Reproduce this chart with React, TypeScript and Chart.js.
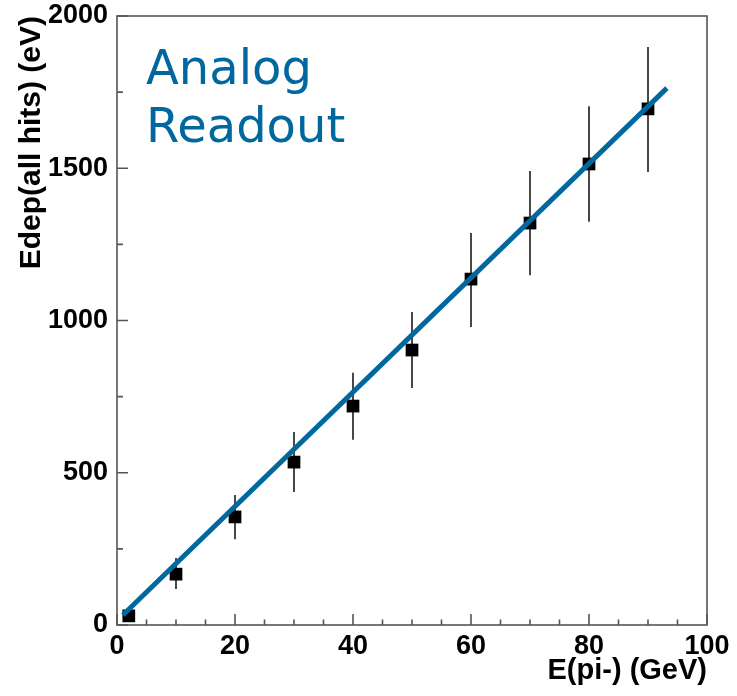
import { useEffect, useRef } from 'react';
import { Chart, registerables } from 'chart.js';

Chart.register(...registerables);

// ---- data ----
const energies = [2, 10, 20, 30, 40, 50, 60, 70, 80, 90];
const edep = [30, 167, 355, 535, 719, 903, 1136, 1320, 1514, 1695];
const errLow = [18, 118, 282, 437, 608, 778, 979, 1149, 1324, 1488];
const errHigh = [42, 220, 427, 634, 828, 1028, 1287, 1491, 1704, 1898];
const fitX = [1, 93.2];
const fitY = [33, 1763];
const xMajorTicks = [0, 20, 40, 60, 80, 100];
const xMinorTicks = [5, 10, 15, 25, 30, 35, 45, 50, 55, 65, 70, 75, 85, 90, 95];
const yMajorTicks = [0, 500, 1000, 1500, 2000];
const yMinorTicks = [250, 750, 1250, 1750];
const annotationLines = ['Analog', 'Readout'];

const BLUE = '#00679F';
const FRAME = '#555555';
const FONT = '"Liberation Sans", Arial, sans-serif';

const framePlugin = {
  id: 'rootFrame',
  beforeDatasetsDraw(chart: any) {
    const { ctx, scales } = chart;
    const x = scales.x;
    const y = scales.y;
    ctx.save();
    ctx.strokeStyle = '#1a1a1a';
    ctx.lineWidth = 1.6;
    for (let i = 0; i < energies.length; i++) {
      const px = x.getPixelForValue(energies[i]);
      const y1 = y.getPixelForValue(errLow[i]);
      const y2 = y.getPixelForValue(errHigh[i]);
      ctx.beginPath();
      ctx.moveTo(px, y1);
      ctx.lineTo(px, y2);
      ctx.stroke();
    }
    ctx.restore();
  },
  afterDraw(chart: any) {
    const { ctx, chartArea, scales } = chart;
    const x = scales.x;
    const y = scales.y;
    ctx.save();
    ctx.strokeStyle = FRAME;
    ctx.lineWidth = 1.6;
    ctx.strokeRect(chartArea.left, chartArea.top, chartArea.right - chartArea.left, chartArea.bottom - chartArea.top);
    ctx.beginPath();
    const tick = (vals: number[], len: number, axis: 'x' | 'y') => {
      vals.forEach((v) => {
        if (axis === 'x') {
          const px = x.getPixelForValue(v);
          ctx.moveTo(px, chartArea.bottom);
          ctx.lineTo(px, chartArea.bottom - len);
        } else {
          const py = y.getPixelForValue(v);
          ctx.moveTo(chartArea.left, py);
          ctx.lineTo(chartArea.left + len, py);
        }
      });
    };
    tick(xMajorTicks, 11, 'x');
    tick(xMinorTicks, 5.5, 'x');
    tick(yMajorTicks, 11, 'y');
    tick(yMinorTicks, 6, 'y');
    ctx.stroke();

    ctx.fillStyle = BLUE;
    ctx.font = '48px "DejaVu Sans"';
    ctx.textAlign = 'left';
    ctx.textBaseline = 'alphabetic';
    ctx.fillText(annotationLines[0], 146, 84);
    ctx.fillText(annotationLines[1], 146, 142);
    ctx.restore();
  },
};

export default function App() {
  const ref = useRef<HTMLCanvasElement>(null);
  useEffect(() => {
    document.body.style.margin = '0';
    const canvas = ref.current!;
    const chart = new Chart(canvas, {
      type: 'scatter',
      data: {
        datasets: [
          {
            type: 'line',
            data: fitX.map((v, i) => ({ x: v, y: fitY[i] })),
            borderColor: BLUE,
            borderWidth: 5,
            pointRadius: 0,
            fill: false,
          } as any,
          {
            type: 'scatter',
            data: energies.map((v, i) => ({ x: v, y: edep[i] })),
            pointStyle: 'rect',
            pointRadius: 9,
            backgroundColor: '#000000',
            borderColor: '#000000',
            borderWidth: 0,
          } as any,
        ],
      },
      options: {
        animation: false,
        responsive: false,
        events: [],
        layout: { padding: { left: 0, top: 16, right: 30, bottom: 0 } },
        plugins: { legend: { display: false }, tooltip: { enabled: false } },
        scales: {
          x: {
            type: 'linear',
            min: 0,
            max: 100,
            afterFit: (s: any) => {
              s.height = 71;
              s.paddingLeft = 0;
              s.paddingRight = 0;
            },
            grid: { display: false, drawTicks: false },
            border: { display: false },
            ticks: {
              stepSize: 20,
              padding: 5,
              color: '#000',
              font: { family: FONT, size: 27, weight: 'bold' },
              maxRotation: 0,
              callback: (v: any) => String(v),
            },
            title: {
              display: true,
              text: 'E(pi-) (GeV)',
              align: 'end',
              color: '#000',
              padding: { top: 0, bottom: 8 },
              font: { family: FONT, size: 29, weight: 'bold' },
            },
          },
          y: {
            type: 'linear',
            min: 0,
            max: 2000,
            afterFit: (s: any) => {
              s.width = 117;
              s.paddingTop = 0;
              s.paddingBottom = 0;
            },
            grid: { display: false, drawTicks: false },
            border: { display: false },
            ticks: {
              stepSize: 500,
              padding: 9,
              color: '#000',
              font: { family: FONT, size: 27, weight: 'bold' },
              callback: (v: any) => String(v),
            },
            title: {
              display: true,
              text: 'Edep(all hits) (eV)',
              align: 'end',
              color: '#000',
              padding: { top: 14, bottom: 0 },
              font: { family: FONT, size: 30, weight: 'bold' },
            },
          },
        },
      },
      plugins: [framePlugin],
    });
    return () => chart.destroy();
  }, []);
  return <canvas ref={ref} width={737} height={696} style={{ display: 'block' }} />;
}
